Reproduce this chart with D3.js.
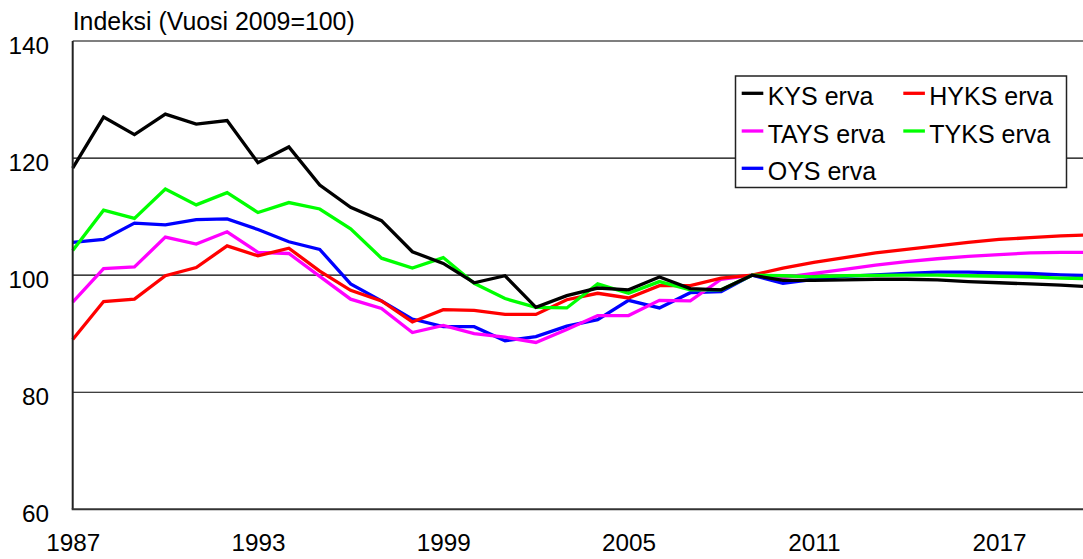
<!DOCTYPE html>
<html>
<head>
<meta charset="utf-8">
<script src="https://cdn.jsdelivr.net/npm/d3@7"></script>
<style>
  html, body { margin:0; padding:0; background:#fff; }
  svg { display:block; font-family:"Liberation Sans", Arial, sans-serif; }
</style>
</head>
<body>
<svg id="chart" width="1083" height="559"></svg>
<script>
// ===== Data =====
const years = d3.range(1987, 2021);
const xTicks = [1987, 1993, 1999, 2005, 2011, 2017];
const yTicks = [60, 80, 100, 120, 140];

const kys  = [118.3,127.0,124.0,127.5,125.8,126.4,119.2,121.9,115.4,111.6,109.3,104.0,102.0,98.7,99.9,94.5,96.5,97.8,97.5,99.7,97.7,97.5,100,99.1,99.1,99.2,99.3,99.3,99.2,98.9,98.7,98.5,98.3,98.0];
const hyks = [89.0,95.5,95.9,99.9,101.3,105.0,103.3,104.6,100.7,97.4,95.6,92.0,94.1,94.0,93.3,93.3,95.8,96.9,96.1,98.2,98.2,99.5,100,101.2,102.2,103.0,103.8,104.4,105.0,105.6,106.1,106.4,106.7,106.9];
const tays = [95.4,101.1,101.4,106.5,105.3,107.4,103.9,103.7,99.8,95.9,94.3,90.2,91.4,90.0,89.4,88.5,90.7,93.1,93.1,95.7,95.6,99.3,100,99.6,100.3,101.0,101.7,102.3,102.8,103.2,103.5,103.8,103.9,103.9];
const tyks = [104.2,111.1,109.7,114.7,112.0,114.1,110.7,112.4,111.3,107.9,102.9,101.2,103.0,98.6,96.0,94.5,94.4,98.5,96.9,98.9,97.5,97.5,100,99.9,99.7,99.9,99.95,100.0,100.0,99.9,99.8,99.7,99.5,99.4];
const oys  = [105.6,106.1,108.9,108.6,109.5,109.6,107.8,105.7,104.4,98.5,95.6,92.5,91.2,91.2,88.8,89.5,91.3,92.4,95.7,94.4,97.0,97.2,100,98.6,99.3,99.8,100.05,100.3,100.5,100.5,100.4,100.3,100.05,99.9];

// legend order (row-wise) and drawing order
const series = [
  {name:'KYS erva',  values:kys,  color:'#000000'},
  {name:'HYKS erva', values:hyks, color:'#ff0000'},
  {name:'TAYS erva', values:tays, color:'#ff00ff'},
  {name:'TYKS erva', values:tyks, color:'#00ff00'},
  {name:'OYS erva',  values:oys,  color:'#0000ff'}
];
const drawOrder = ['OYS erva','TAYS erva','HYKS erva','TYKS erva','KYS erva'];

// ===== Layout =====
const svg = d3.select('#chart');
const Wd = 1083;
const M = {left:72.7, top:41, bottom:509.3};
const pxPerYear = 30.88;

const x = d3.scaleLinear().domain([1987, 2020]).range([M.left, M.left + 33 * pxPerYear]);
const y = d3.scaleLinear().domain([60, 140]).range([M.bottom, M.top]);

// gridlines
svg.append('g').selectAll('line').data(yTicks.filter(d => d > 60)).join('line')
  .attr('x1', M.left).attr('x2', Wd)
  .attr('y1', d => y(d)).attr('y2', d => y(d))
  .attr('stroke', '#000').attr('stroke-width', 1.2);

// y axis labels
const yAxisG = svg.append('g').attr('transform', 'translate(49,0)')
  .call(d3.axisLeft(y).tickValues(yTicks).tickSize(0).tickPadding(0).tickFormat(d3.format('d')));
yAxisG.select('.domain').remove();
yAxisG.selectAll('text')
  .attr('font-family', '"Liberation Sans", Arial, sans-serif')
  .attr('font-size', 24.3).attr('fill', '#000')
  .attr('dy', '0.52em');

// x axis labels
const xAxisG = svg.append('g').attr('transform', `translate(0,${M.bottom})`)
  .call(d3.axisBottom(x).tickValues(xTicks).tickSize(0).tickPadding(0).tickFormat(d3.format('d')));
xAxisG.select('.domain').remove();
xAxisG.selectAll('text')
  .attr('font-family', '"Liberation Sans", Arial, sans-serif')
  .attr('font-size', 24.3).attr('fill', '#000')
  .attr('dy', 42).attr('y', 0);

// lines
const line = d3.line()
  .x((d, i) => x(years[i]))
  .y(d => y(d));

const gLines = svg.append('g');
drawOrder.forEach(n => {
  const s = series.find(d => d.name === n);
  gLines.append('path')
    .attr('d', line(s.values))
    .attr('fill', 'none')
    .attr('stroke', s.color)
    .attr('stroke-width', 3.3)
    .attr('stroke-linejoin', 'miter')
    .attr('stroke-linecap', 'butt');
});

// axes frame
svg.append('line').attr('x1', M.left).attr('x2', M.left).attr('y1', M.top).attr('y2', M.bottom)
  .attr('stroke', '#222').attr('stroke-width', 2);
svg.append('line').attr('x1', M.left - 1).attr('x2', Wd).attr('y1', M.bottom).attr('y2', M.bottom)
  .attr('stroke', '#333').attr('stroke-width', 2);

// title
svg.append('text')
  .attr('x', M.left).attr('y', 30)
  .attr('font-size', 24.9).attr('fill', '#000')
  .text('Indeksi (Vuosi 2009=100)');

// legend
const lg = svg.append('g');
lg.append('rect')
  .attr('x', 735.5).attr('y', 76).attr('width', 331).attr('height', 111.5)
  .attr('fill', '#fff').attr('stroke', '#222').attr('stroke-width', 1.5);

const colX = [741.7, 903.3];
const rowY = [93.3, 131, 168.3];
const items = lg.selectAll('g.item').data(series).join('g').attr('class', 'item')
  .attr('transform', (d, i) => `translate(${colX[i % 2]},${rowY[Math.floor(i / 2)]})`);
items.append('line')
  .attr('x1', 0).attr('x2', 21.6).attr('y1', 0).attr('y2', 0)
  .attr('stroke', d => d.color).attr('stroke-width', 3.3);
items.append('text')
  .attr('x', 26).attr('y', 12)
  .attr('font-size', 25).attr('fill', '#000')
  .text(d => d.name);
</script>
</body>
</html>
